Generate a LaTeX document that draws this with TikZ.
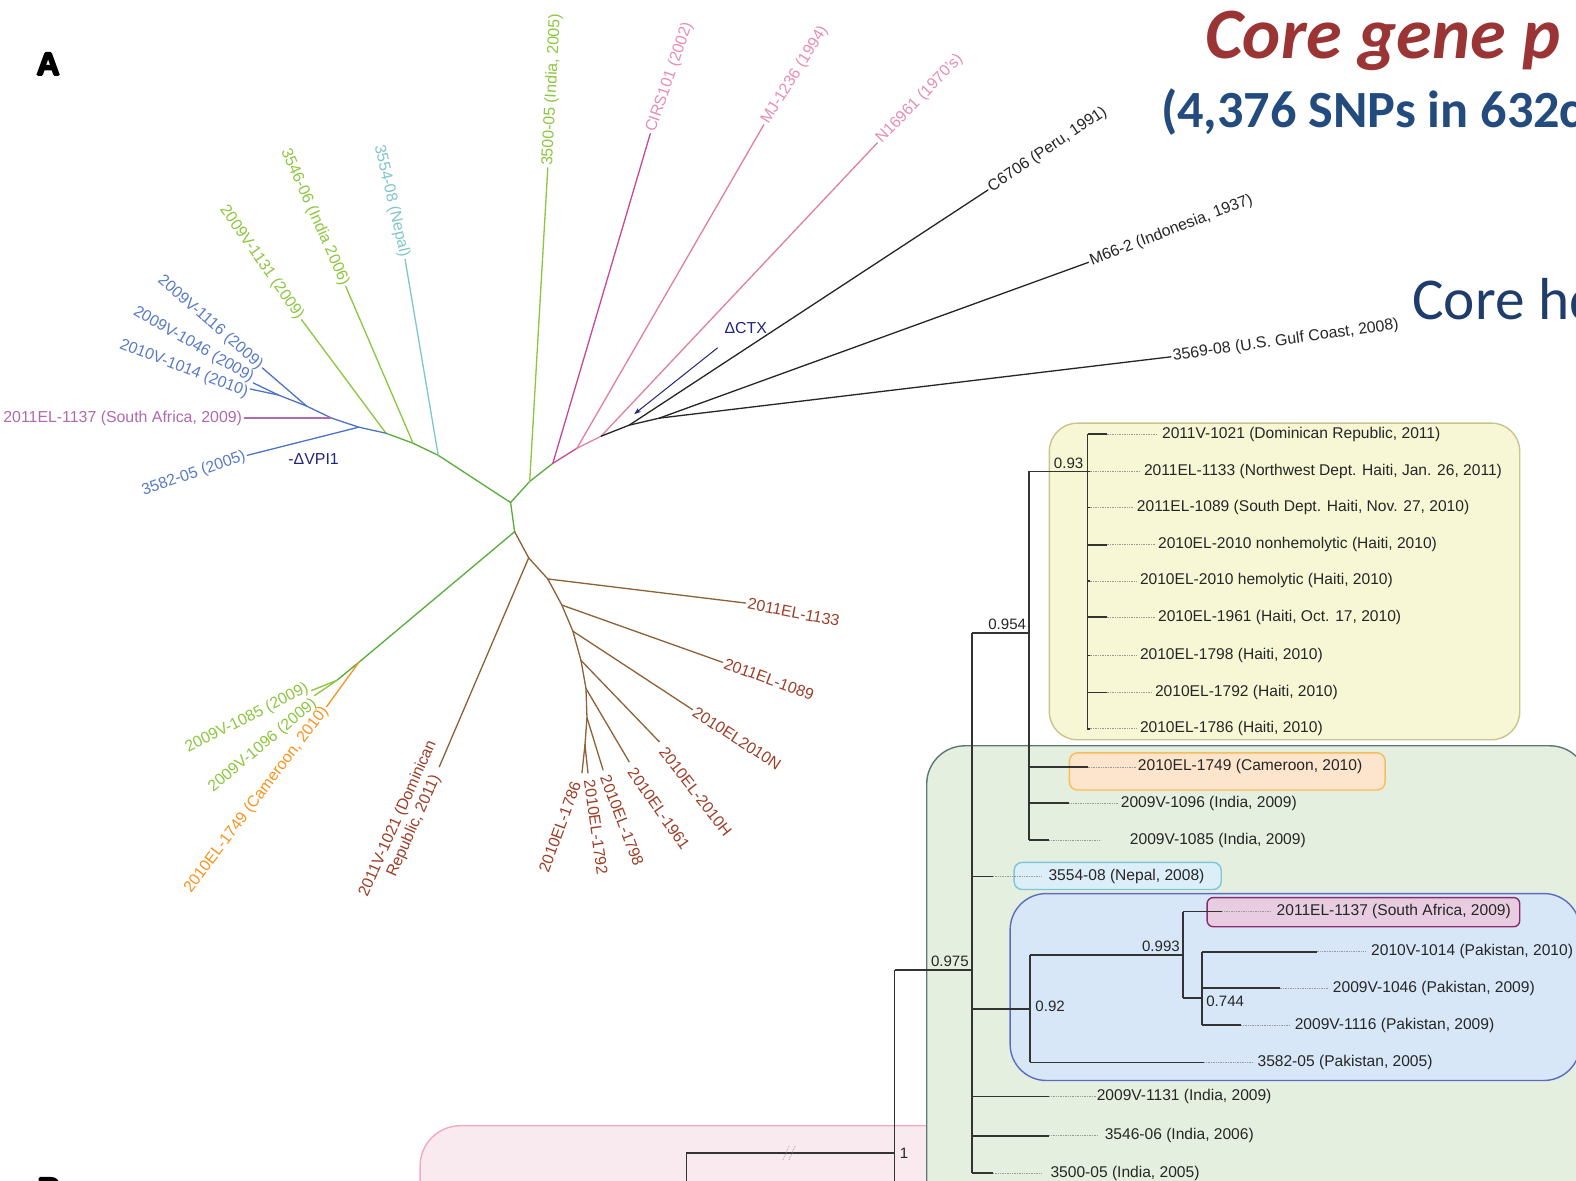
\documentclass[tikz,border=0pt]{standalone}
\usepackage{fontspec}
\setmainfont{Liberation Sans}
\newfontfamily\calfont{Carlito}
\usetikzlibrary{arrows.meta}

\definecolor{trunkgreen}{HTML}{58AD3A}
\definecolor{leafgreen}{HTML}{8DC63F}
\definecolor{cyanl}{HTML}{80C7CA}
\definecolor{bluel}{HTML}{4F74C4}
\definecolor{bluetxt}{HTML}{5A7BC8}
\definecolor{purplel}{HTML}{B06AAE}
\definecolor{magental}{HTML}{C8489A}
\definecolor{pinkl}{HTML}{DF7FA3}
\definecolor{pinktxt}{HTML}{E88DB6}
\definecolor{orangel}{HTML}{F7941D}
\definecolor{brownl}{HTML}{8E6236}
\definecolor{browntxt}{HTML}{9E3E27}
\definecolor{navy}{HTML}{24257A}
\definecolor{titlered}{HTML}{9B3535}
\definecolor{titleblue}{HTML}{234B7D}
\definecolor{hqblue}{HTML}{1F3C6A}
\definecolor{yfill}{HTML}{F7F7D5}
\definecolor{ydraw}{HTML}{C9C58E}
\definecolor{gfill}{HTML}{E5EFDF}
\definecolor{gdraw}{HTML}{5E7873}
\definecolor{pfill}{HTML}{F9EAF0}
\definecolor{pdraw}{HTML}{F3A9C2}
\definecolor{ofill}{HTML}{FCE5CC}
\definecolor{odraw}{HTML}{F6BE5B}
\definecolor{cfill}{HTML}{DCEEF8}
\definecolor{cdraw}{HTML}{80C6D9}
\definecolor{bfill}{HTML}{D7E7F8}
\definecolor{bdraw}{HTML}{5B6DC0}
\definecolor{mfill}{HTML}{E8CDE1}
\definecolor{mdraw}{HTML}{8C2A6F}

\tikzset{
  lab/.style={font=\fontsize{15.8}{17.5}\selectfont, inner sep=2pt},
  rlab/.style={font=\fontsize{15.5}{18}\selectfont, inner sep=0pt, text=black!85},
  supp/.style={font=\fontsize{15}{17}\selectfont, inner sep=1pt, text=black!85},
  br/.style={line width=1.3pt, line cap=round},
  tree/.style={line width=1.6pt, black!80},
  dotl/.style={densely dotted, line width=0.7pt, black!40},
  cladebox/.style={line width=1.4pt},
  panel/.style={font=\bfseries\fontsize{32}{32}\selectfont, inner sep=0pt},
}

% one leaf row of the rectangular tree: solid stub, dotted leader, label
\newcommand\leafrow[7]{%
  \coordinate (#1s) at (#3,#2);
  \coordinate (#1m) at (#4,#2);
  \coordinate (#1d) at (#5,#2);
  \draw[tree] (#1s) -- (#1m);
  \draw[dotl] (#1m) -- (#1d);
  \node[rlab, anchor=west] (#1) at (#6,#2) {#7};}

% heavy panel letter: the glyph set several times with small offsets
\newcommand\heavyletter[3]{%
  \foreach \dx/\dy in {-0.9/0,0.9/0,0/-0.7,0/0.7,0/0}
    \node[panel] at ([shift={(\dx,\dy)}]#1,#2) {#3};}

\begin{document}
\begin{tikzpicture}[x=1pt,y=-1pt]
\useasboundingbox (0,0) rectangle (1568,1175);
\fill[white] (0,0) rectangle (1568,1175);

% ---------------- headings ----------------
\node[anchor=base west, inner sep=0, text=titlered,
      font=\calfont\bfseries\itshape\fontsize{72}{80}\selectfont] (title) at (1199,58) {Core gene p};
\node[anchor=base west, inner sep=0, text=titleblue,
      font=\calfont\bfseries\fontsize{52}{60}\selectfont] (subtitle) at (1155,127) {(4,376 SNPs in 632c};
\node[anchor=base west, inner sep=0, text=hqblue,
      font=\calfont\fontsize{59}{66}\selectfont] (hq) at (1405,318) {Core hq};
\heavyletter{48}{64}{A}
\heavyletter{49}{1183}{B}

% ---------------- unrooted tree ----------------
\coordinate (a1) at (508,500);
\coordinate (a2) at (512,529);
\coordinate (a3) at (527,479);
\coordinate (a4) at (550,461);
\coordinate (a5) at (574,446);
\coordinate (a6) at (598,434);
\coordinate (a7) at (626,423);
\coordinate (a8) at (656,416);
\coordinate (b1) at (436,453);
\coordinate (b2) at (411,441);
\coordinate (b3) at (384,431);
\coordinate (b4) at (357,425);
\coordinate (b5) at (330,416);
\coordinate (b6) at (305,404);
\coordinate (b7) at (277,393);
\coordinate (c1) at (357,659);
\coordinate (c2) at (335,677);
\coordinate (d1) at (526,555);
\coordinate (d2) at (545,576);
\coordinate (d3) at (559,602);
\coordinate (d4) at (570,628);
\coordinate (d5) at (578,657);
\coordinate (d6) at (583,685);
\coordinate (d7) at (584,714);
\coordinate (d8) at (582,741);

\coordinate (t3554) at (403,258);
\coordinate (t3546) at (344,285);
\coordinate (t1131) at (300,318);
\coordinate (t1116) at (261,366);
\coordinate (t1046) at (252,381);
\coordinate (t1014) at (249,387);
\coordinate (t1137) at (243,416);
\coordinate (t3582) at (246,453);
\coordinate (t3500) at (545,167);
\coordinate (tCIRS) at (647,133);
\coordinate (tMJ) at (760,124);
\coordinate (tN169) at (873,142);
\coordinate (tC67) at (983,189);
\coordinate (tM66) at (1083,261);
\coordinate (t3569) at (1165,355);
\coordinate (t1085) at (310,687);
\coordinate (t1096) at (313,692);
\coordinate (t1749) at (325,703);
\coordinate (tDR) at (437,763);
\coordinate (t1133) at (742,600);
\coordinate (t1089) at (719,659);
\coordinate (t2010N) at (689,706);
\coordinate (t2010H) at (656,738);
\coordinate (t1961) at (626,758);
\coordinate (t1798) at (600,766);
\coordinate (t1792) at (585,769);
\coordinate (t1786) at (579,769);

% branches
\draw[br, trunkgreen] (a2) -- (a1) -- (a3) -- (a4);
\draw[br, trunkgreen] (a1) -- (b1) -- (b2) -- (b3);
\draw[br, trunkgreen] (a2) -- (c1) -- (c2);
\draw[br, leafgreen] (a3) -- (t3500);
\draw[br, cyanl] (b1) -- (t3554);
\draw[br, leafgreen] (b2) -- (t3546);
\draw[br, leafgreen] (b3) -- (t1131);
\draw[br, bluel] (b3) -- (b4) -- (b5) -- (b6) -- (b7);
\draw[br, bluel] (b4) -- (t3582);
\draw[br, purplel] (b5) -- (t1137);
\draw[br, bluel] (b6) -- (t1116);
\draw[br, bluel] (b7) -- (t1046);
\draw[br, bluel] (b7) -- (t1014);
\draw[br, magental] (a4) -- (tCIRS);
\draw[br, magental] (a4) -- (a5);
\draw[br, pinkl] (a5) -- (tMJ);
\draw[br, pinkl] (a5) -- (a6) -- (tN169);
\draw[br, black!85] (a6) -- (a7) -- (a8);
\draw[br, black!85] (a7) -- (tC67);
\draw[br, black!85] (a8) -- (tM66);
\draw[br, black!85] (a8) -- (t3569);
\draw[br, orangel] (c1) -- (t1749);
\draw[br, leafgreen] (c2) -- (t1085);
\draw[br, leafgreen] (c2) -- (t1096);
\draw[br, brownl] (a2) -- (d1) -- (d2) -- (d3) -- (d4) -- (d5) -- (d6) -- (d7) -- (d8);
\draw[br, brownl] (d1) -- (tDR);
\draw[br, brownl] (d2) -- (t1133);
\draw[br, brownl] (d3) -- (t1089);
\draw[br, brownl] (d4) -- (t2010N);
\draw[br, brownl] (d5) -- (t2010H);
\draw[br, brownl] (d6) -- (t1961);
\draw[br, brownl] (d7) -- (t1798);
\draw[br, brownl] (d8) -- (t1786);
\draw[br, brownl] (d8) -- (t1792);

% tip labels
\node[lab, text=cyanl, rotate=-77, anchor=east] (l3554) at (t3554) {3554-08 (Nepal)};
\node[lab, text=leafgreen, rotate=-66, anchor=east] (l3546) at (t3546) {3546-06 (India 2006)};
\node[lab, text=leafgreen, rotate=-55, anchor=east] (l1131) at (t1131) {2009V-1131 (2009)};
\node[lab, text=bluetxt, rotate=-41, anchor=east] (l1116) at (t1116) {2009V-1116 (2009)};
\node[lab, text=bluetxt, rotate=-30, anchor=east] (l1046) at ([shift={(1,-3)}]t1046) {2009V-1046 (2009)};
\node[lab, text=bluetxt, rotate=-21, anchor=east] (l1014) at ([shift={(-1,5)}]t1014) {2010V-1014 (2010)};
\node[lab, text=purplel, anchor=east] (l1137) at (t1137) {2011EL-1137 (South Africa, 2009)};
\node[lab, text=bluetxt, rotate=19, anchor=east] (l3582) at (t3582) {3582-05 (2005)};
\node[lab, text=leafgreen, rotate=87, anchor=west] (l3500) at (t3500) {3500-05 (India, 2005)};
\node[lab, text=pinktxt, rotate=71, anchor=west] (lCIRS) at (tCIRS) {CIRS101 (2002)};
\node[lab, text=pinktxt, rotate=58, anchor=west] (lMJ) at (tMJ) {MJ-1236 (1994)};
\node[lab, text=pinktxt, rotate=46, anchor=west] (lN169) at (tN169) {N16961 (1970's)};
\node[lab, text=black!85, rotate=34, anchor=west] (lC67) at (tC67) {C6706 (Peru, 1991)};
\node[lab, text=black!85, rotate=21, anchor=west] (lM66) at (tM66) {M66-2 (Indonesia, 1937)};
\node[lab, text=black!85, rotate=8, anchor=west] (l3569) at (t3569) {3569-08 (U.S. Gulf Coast, 2008)};
\node[lab, text=leafgreen, rotate=27, anchor=east] (l1085) at ([shift={(-2,-4)}]t1085) {2009V-1085 (2009)};
\node[lab, text=leafgreen, rotate=40, anchor=east] (l1096) at ([shift={(2,5)}]t1096) {2009V-1096 (2009)};
\node[lab, text=orangel, rotate=53, anchor=east] (l1749) at (t1749) {2010EL-1749 (Cameroon, 2010)};
\node[lab, text=browntxt, rotate=66, align=center] (lDR) at (404,818) {2011V-1021 (Dominican\\Republic, 2011)};
\node[lab, text=browntxt, rotate=-11, anchor=west] (l1133) at (t1133) {2011EL-1133};
\node[lab, text=browntxt, rotate=-20, anchor=west] (l1089) at (t1089) {2011EL-1089};
\node[lab, text=browntxt, rotate=-33, anchor=west] (l2010N) at (t2010N) {2010EL2010N};
\node[lab, text=browntxt, rotate=-52, anchor=west] (l2010H) at ([shift={(2,6)}]t2010H) {2010EL-2010H};
\node[lab, text=browntxt, rotate=-55, anchor=west] (l1961) at ([shift={(1,6)}]t1961) {2010EL-1961};
\node[lab, text=browntxt, rotate=-69, anchor=west] (l1798) at ([shift={(1,4)}]t1798) {2010EL-1798};
\node[lab, text=browntxt, rotate=-82, anchor=west] (l1792) at ([shift={(1,5)}]t1792) {2010EL-1792};
\node[lab, text=browntxt, rotate=70, anchor=east] (l1786) at ([shift={(-5,7)}]t1786) {2010EL-1786};

% deletion marks
\node[lab, text=navy] (vpi) at (312,457) {-ΔVPI1};
\node[lab, text=navy] (ctx) at (742,326) {ΔCTX};
\coordinate (ctxs) at (714,346);
\coordinate (ctxe) at (631,412);
\draw[navy, line width=1pt, -{Stealth[length=7pt,width=5pt]}] (ctxs) -- (ctxe);

% ---------------- clade boxes ----------------
\draw[cladebox, draw=pdraw, fill=pfill, rounded corners=40] (418,1120) rectangle (1000,1260);
\draw[cladebox, draw=gdraw, fill=gfill, rounded corners=38] (922,742) rectangle (1580,1260);
\draw[cladebox, draw=ydraw, fill=yfill, rounded corners=28] (1044,421) rectangle (1512,736);
\draw[cladebox, draw=odraw, fill=ofill, rounded corners=8] (1064,749) rectangle (1378,786);
\draw[cladebox, draw=cdraw, fill=cfill, rounded corners=8] (1009,858) rectangle (1215,885);
\draw[cladebox, draw=bdraw, fill=bfill, rounded corners=36] (1005,889) rectangle (1572,1075);
\draw[cladebox, draw=mdraw, fill=mfill, rounded corners=6] (1201,893) rectangle (1512,922);

% ---------------- rectangular tree ----------------
\coordinate (r1a) at (890,965);
\coordinate (r1b) at (890,1147);
\coordinate (r1c) at (890,1190);
\coordinate (p1a) at (683,1147);
\coordinate (p1b) at (683,1190);
\draw[tree] (r1a) -- (r1c);
\draw[tree] (p1b) -- (p1a) -- (r1b);
\node[supp, anchor=west] (s1) at (894,1147) {1};
\draw[black!35, densely dotted, line width=0.8pt] (779,1154) -- (785,1140) (785,1154) -- (791,1140);

\coordinate (n975) at (967,965);
\coordinate (v975a) at (967,630);
\coordinate (v975b) at (967,1167);
\draw[tree] (r1a) -- (n975);
\draw[tree] (v975a) -- (v975b);
\node[supp, anchor=south east] (s975) at (965,963) {0.975};

\coordinate (n954) at (1024,630);
\coordinate (v954a) at (1024,469);
\coordinate (v954b) at (1024,836);
\draw[tree] (v975a) -- (n954);
\draw[tree] (v954a) -- (v954b);
\node[supp, anchor=south east] (s954) at (1022,628) {0.954};

\coordinate (n93) at (1082,469);
\coordinate (v93a) at (1082,432);
\coordinate (v93b) at (1082,726);
\draw[tree] (v954a) -- (n93);
\draw[tree] (v93a) -- (v93b);
\node[supp, anchor=south east] (s93) at (1079,467) {0.93};

\leafrow{h1}{432}{1082}{1101}{1151}{1156}{2011V-1021 (Dominican Republic, 2011)}
\leafrow{h2}{469}{1082}{1084}{1134}{1138}{2011EL-1133 (Northwest Dept. Haiti, Jan. 26, 2011)}
\leafrow{h3}{505}{1082}{1084}{1127}{1131}{2011EL-1089 (South Dept. Haiti, Nov. 27, 2010)}
\leafrow{h4}{542}{1082}{1101}{1149}{1152}{2010EL-2010 nonhemolytic (Haiti, 2010)}
\leafrow{h5}{578}{1082}{1084}{1131}{1134}{2010EL-2010 hemolytic (Haiti, 2010)}
\leafrow{h6}{614}{1082}{1101}{1149}{1152}{2010EL-1961 (Haiti, Oct. 17, 2010)}
\leafrow{h7}{652}{1082}{1084}{1131}{1134}{2010EL-1798 (Haiti, 2010)}
\leafrow{h8}{689}{1082}{1101}{1146}{1149}{2010EL-1792 (Haiti, 2010)}
\leafrow{h9}{725}{1082}{1084}{1131}{1134}{2010EL-1786 (Haiti, 2010)}

\leafrow{g1}{763}{1024}{1082}{1130}{1132}{2010EL-1749 (Cameroon, 2010)}
\leafrow{g2}{799}{1024}{1064}{1112}{1115}{2009V-1096 (India, 2009)}
\leafrow{g3}{836}{1024}{1044}{1095}{1124}{2009V-1085 (India, 2009)}
\leafrow{g4}{872}{967}{988}{1037}{1043}{3554-08 (Nepal, 2008)}
\leafrow{g5}{1091}{967}{1044}{1090}{1091}{2009V-1131 (India, 2009)}
\leafrow{g6}{1130}{967}{1044}{1093}{1099}{3546-06 (India, 2006)}
\leafrow{g7}{1167}{967}{988}{1037}{1045}{3500-05 (India, 2005)}

\coordinate (n92a) at (967,1004);
\coordinate (n92) at (1025,1004);
\coordinate (v92a) at (1025,950);
\coordinate (v92b) at (1025,1057);
\draw[tree] (n92a) -- (n92);
\draw[tree] (v92a) -- (v92b);
\node[supp, anchor=west] (s92) at (1029,1001) {0.92};

\coordinate (n993) at (1177,950);
\coordinate (v993a) at (1177,907);
\coordinate (v993b) at (1177,993);
\draw[tree] (v92a) -- (n993);
\draw[tree] (v993a) -- (v993b);
\node[supp, anchor=south east] (s993) at (1175,948) {0.993};

\coordinate (n744) at (1196,993);
\coordinate (v744a) at (1196,947);
\coordinate (v744b) at (1196,1020);
\draw[tree] (v993b) -- (n744);
\draw[tree] (v744a) -- (v744b);
\node[supp, anchor=west] (s744) at (1199,996) {0.744};

\leafrow{k1}{907}{1177}{1216}{1264}{1270}{2011EL-1137 (South Africa, 2009)}
\leafrow{k2}{947}{1196}{1310}{1358}{1364}{2010V-1014 (Pakistan, 2010)}
\leafrow{k3}{983}{1196}{1273}{1322}{1326}{2009V-1046 (Pakistan, 2009)}
\leafrow{k4}{1020}{1196}{1235}{1284}{1288}{2009V-1116 (Pakistan, 2009)}
\leafrow{k5}{1057}{1025}{1198}{1246}{1251}{3582-05 (Pakistan, 2005)}

\end{tikzpicture}
\end{document}
